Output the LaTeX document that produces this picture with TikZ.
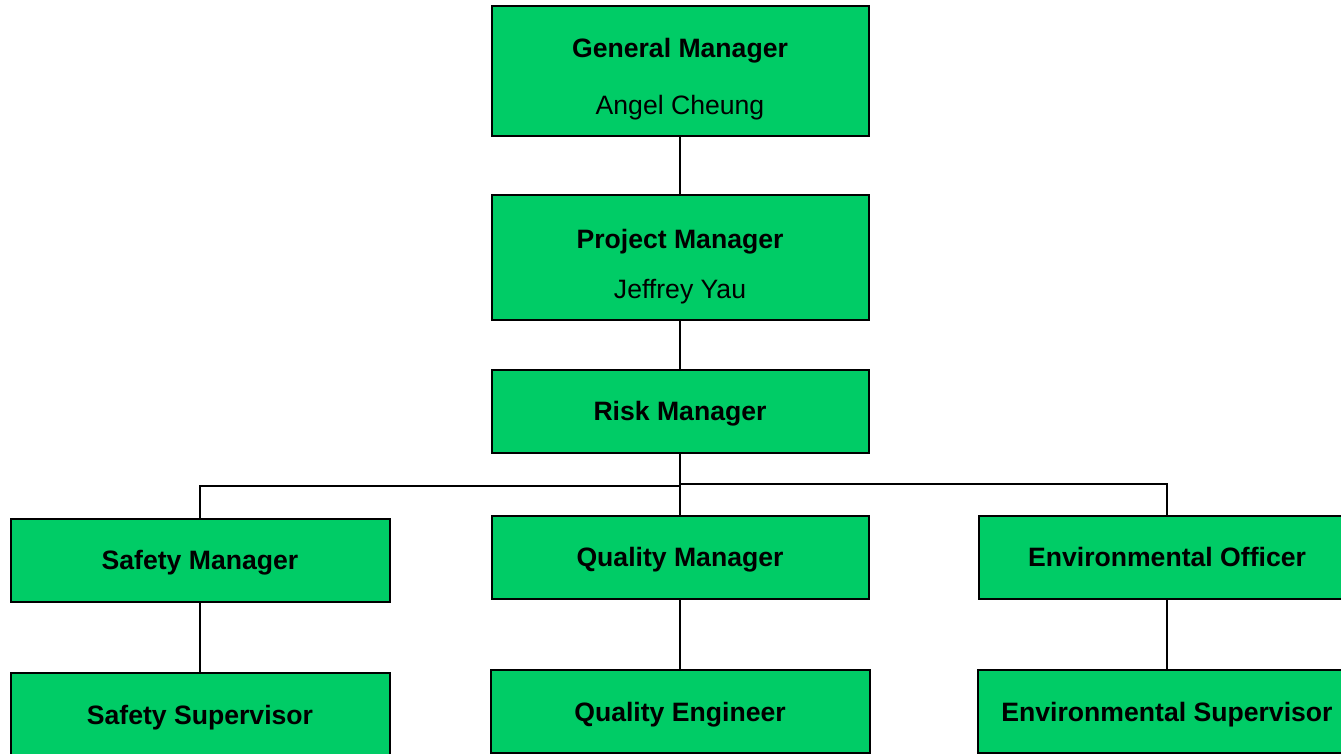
\documentclass[tikz,border=0pt]{standalone}
\usepackage{fontspec}
\setmainfont{Liberation Sans}
\definecolor{boxgreen}{RGB}{0,204,102}
\begin{document}
\begin{tikzpicture}[x=1pt,y=-1pt,
  orgbox/.style={draw=black,fill=boxgreen,line width=2pt,inner sep=0pt,
    minimum width=377pt,minimum height=83pt,
    font=\fontsize{26.6}{30}\selectfont\bfseries,text height=19pt,text depth=0pt},
  titletext/.style={anchor=base,inner sep=0pt,font=\fontsize{26.6}{30}\selectfont\bfseries},
  nametext/.style={anchor=base,inner sep=0pt,font=\fontsize{26.6}{30}\selectfont},
  conn/.style={draw=black,line width=2pt},
  branch/.style={draw=black,line width=1.2pt}]
\useasboundingbox[fill=white] (0,0) rectangle (1341,754);
% top boxes
\node[orgbox,minimum height=130pt] (gm) at (680,71.5) {};
\node[titletext] (gmt) at (680,58) {General Manager};
\node[nametext] (gmn) at (680,115) {Angel Cheung};
\node[orgbox,minimum height=124pt] (pm) at (680,257.5) {};
\node[titletext] (pmt) at (680,248.3) {Project Manager};
\node[nametext] (pmn) at (680,298) {Jeffrey Yau};
\node[orgbox] (rm) at (680,411) {Risk Manager};
% middle row
\node[orgbox,minimum width=379pt] (sm) at (200,560) {Safety Manager};
\node[orgbox] (qm) at (680,557) {Quality Manager};
\node[orgbox] (eo) at (1167,557) {Environmental Officer};
% bottom row
\node[orgbox,minimum width=379pt] (ss) at (200,714.5) {Safety Supervisor};
\node[orgbox,minimum width=379pt] (qe) at (680,711.5) {Quality Engineer};
\node[orgbox,minimum width=379pt] (es) at (1167,711.5) {Environmental Supervisor};
% connectors
\coordinate (jl) at (680,486);
\coordinate (jr) at (680,484);
\draw[conn] (gm.south) -- (pm.north);
\draw[conn] (pm.south) -- (rm.north);
\draw[conn] (rm.south) -- (qm.north);
\draw[branch] (sm.north) |- (jl);
\draw[branch] (eo.north) |- (jr);
\draw[conn] (sm.south) -- (ss.north);
\draw[conn] (qm.south) -- (qe.north);
\draw[conn] (eo.south) -- (es.north);
\end{tikzpicture}
\end{document}
